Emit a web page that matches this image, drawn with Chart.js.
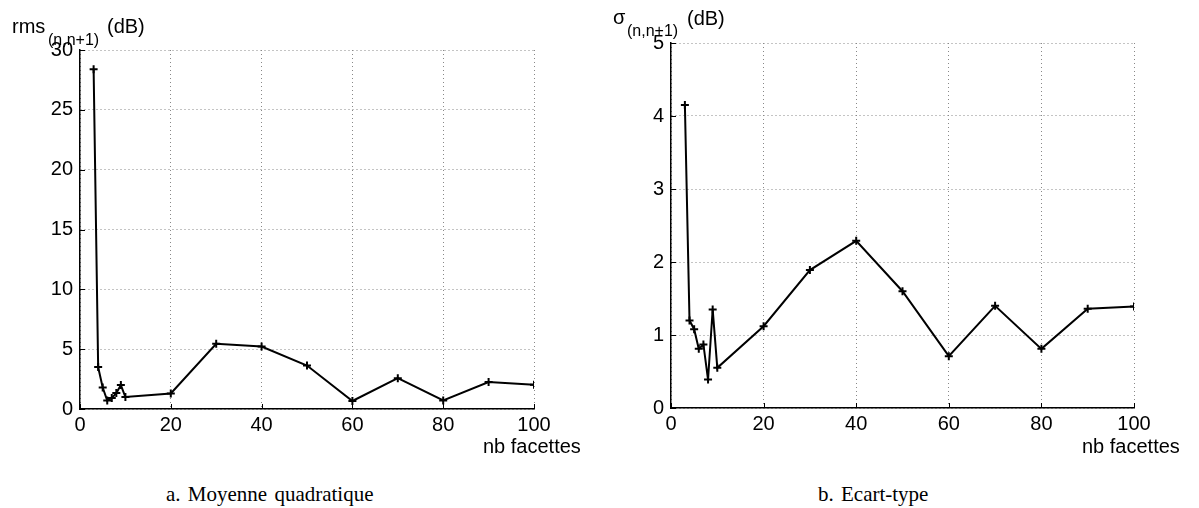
<!DOCTYPE html>
<html>
<head>
<meta charset="utf-8">
<script src="https://cdn.jsdelivr.net/npm/chart.js@4"></script>
<style>
  body { margin: 0; background: #fff; width: 1199px; height: 508px; position: relative; overflow: hidden; }
  .box { position: absolute; }
  .lbl { position: absolute; font-family: "Liberation Sans", Arial, sans-serif; color: #000; line-height: 1; white-space: nowrap; }
  .cap { position: absolute; font-family: "Liberation Serif", "Times New Roman", serif; font-size: 21px; line-height: 1; white-space: nowrap; word-spacing: 2px; }
</style>
</head>
<body>

<div class="box" style="left:0px; top:0px; width:584px; height:439px;"><canvas id="chart-rms" width="584" height="439"></canvas></div>
<div class="box" style="left:591px; top:0px; width:593px; height:438px;"><canvas id="chart-sigma" width="593" height="438"></canvas></div>

<!-- titres des axes -->
<span class="lbl" style="left:12px; top:16px; font-size:20px;">rms</span>
<span class="lbl" style="left:48px; top:32px; font-size:16px;">(n,n+1)</span>
<span class="lbl" style="left:107px; top:16px; font-size:20px;">(dB)</span>

<span class="lbl" style="left:613px; top:7px; font-size:20px;">σ</span>
<span class="lbl" style="left:627px; top:23px; font-size:16px;">(n,n+1)</span>
<span class="lbl" style="left:687px; top:8px; font-size:20px;">(dB)</span>

<span class="lbl" style="left:483px; top:436px; font-size:20px;">nb facettes</span>
<span class="lbl" style="left:1082px; top:436px; font-size:20px;">nb facettes</span>

<!-- légendes -->
<span class="cap" style="left:166px; top:484px;">a. Moyenne quadratique</span>
<span class="cap" style="left:818px; top:484px;">b. Ecart-type</span>

<script>
// nombre de facettes (axe x commun)
const facettes = [3, 4, 5, 6, 7, 8, 9, 10, 20, 30, 40, 50, 60, 70, 80, 90, 100];

// a. moyenne quadratique rms(n,n+1) en dB
const rmsValues = [28.4, 3.5, 1.8, 0.7, 0.92, 1.33, 2.0, 1.0, 1.3, 5.45, 5.22, 3.63, 0.67, 2.58, 0.72, 2.25, 2.03];

// b. écart-type sigma(n,n+1) en dB
const sigmaValues = [4.15, 1.2, 1.08, 0.81, 0.87, 0.39, 1.35, 0.55, 1.12, 1.89, 2.29, 1.6, 0.71, 1.4, 0.81, 1.36, 1.39];

// graduations
const xTicks = [0, 20, 40, 60, 80, 100];
const rmsTicks = [0, 5, 10, 15, 20, 25, 30];
const sigmaTicks = [0, 1, 2, 3, 4, 5];

const fontAxes = { family: '"Liberation Sans", Arial, sans-serif', size: 20 };

// petites graduations vers l'intérieur (style matlab)
const innerTicks = {
    id: 'innerTicks',
    afterDatasetsDraw(chart) {
        const c = chart.ctx;
        const xs = chart.scales.x, ys = chart.scales.y;
        c.save();
        c.strokeStyle = '#000';
        c.lineWidth = 1;
        c.beginPath();
        xs.ticks.forEach(t => {
            const px = Math.round(xs.getPixelForValue(t.value)) + 0.5;
            c.moveTo(px, ys.bottom);
            c.lineTo(px, ys.bottom - 5);
        });
        ys.ticks.forEach(t => {
            const py = Math.round(ys.getPixelForValue(t.value)) + 0.5;
            c.moveTo(xs.left, py);
            c.lineTo(xs.left + 5, py);
        });
        c.stroke();
        c.restore();
    }
};

function makeChart(id, values, yTicks, topPad) {
    const ctx = document.getElementById(id).getContext('2d');
    return new Chart(ctx, {
        type: 'line',
        data: {
            datasets: [{
                data: facettes.map((f, i) => ({ x: f, y: values[i] })),
                borderColor: '#000',
                borderWidth: 2,
                pointStyle: 'cross',
                pointRadius: 4,
                pointBorderWidth: 2,
                pointBorderColor: '#000',
                fill: false,
                tension: 0
            }]
        },
        options: {
            responsive: false,
            animation: false,
            devicePixelRatio: 1,
            layout: { padding: { left: 0, right: 50, top: topPad, bottom: 0 } },
            plugins: { legend: { display: false }, tooltip: { enabled: false } },
            scales: {
                x: {
                    type: 'linear',
                    min: 0,
                    max: 100,
                    afterBuildTicks: s => { s.ticks = xTicks.map(v => ({ value: v })); },
                    afterFit: s => { s.height = 30; },
                    grid: { color: '#888', lineWidth: 1, drawTicks: false },
                    border: { display: true, color: '#000', width: 1.5, dash: [1, 3] },
                    ticks: { color: '#000', font: fontAxes, padding: 4, maxRotation: 0 }
                },
                y: {
                    type: 'linear',
                    min: yTicks[0],
                    max: yTicks[yTicks.length - 1],
                    afterBuildTicks: s => { s.ticks = yTicks.map(v => ({ value: v })); },
                    afterFit: s => { s.width = 80; },
                    grid: { color: '#888', lineWidth: 1, drawTicks: false },
                    border: { display: true, color: '#000', width: 1.5, dash: [1, 3] },
                    ticks: { color: '#000', font: fontAxes, padding: 7 }
                }
            }
        },
        plugins: [innerTicks]
    });
}

const rmsChart = makeChart('chart-rms', rmsValues, rmsTicks, 50);
const sigmaChart = makeChart('chart-sigma', sigmaValues, sigmaTicks, 43);
</script>
</body>
</html>
